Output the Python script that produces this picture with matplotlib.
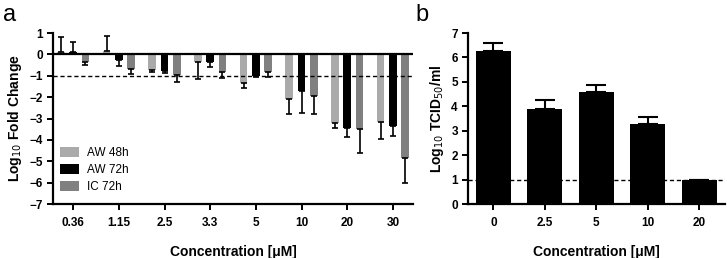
import numpy as np
import matplotlib.pyplot as plt

plt.rcParams['font.family'] = ['Liberation Sans', 'DejaVu Sans']

# panel a: log10 fold change
conc_a = ["0.36", "1.15", "2.5", "3.3", "5", "10", "20", "30"]
aw48 = [0.1, 0.15, -0.75, -0.35, -1.35, -2.08, -3.2, -3.15]
aw48_err = [0.7, 0.7, 0.05, 0.8, 0.2, 0.7, 0.25, 0.8]
aw72 = [0.1, -0.28, -0.78, -0.35, -1.0, -1.7, -3.42, -3.33]
aw72_err = [0.5, 0.25, 0.07, 0.22, 0.05, 1.02, 0.42, 0.5]
ic72 = [-0.37, -0.68, -0.95, -0.8, -0.8, -1.95, -3.48, -4.84]
ic72_err = [0.12, 0.22, 0.32, 0.3, 0.28, 0.84, 1.15, 1.18]
series_labels = ["AW 48h", "AW 72h", "IC 72h"]
series_colors = ["#aaaaaa", "#000000", "#808080"]

# panel b: virus titer
conc_b = ["0", "2.5", "5", "10", "20"]
titer = [6.27, 3.89, 4.6, 3.27, 1.0]
titer_err = [0.32, 0.37, 0.28, 0.28, 0.0]


def one_sided(vals, errs):
    vals = np.array(vals)
    errs = np.array(errs)
    lo = np.where(vals < 0, errs, 0)
    hi = np.where(vals >= 0, errs, 0)
    return [lo, hi]


def style_axis(ax):
    ax.spines['top'].set_visible(False)
    ax.spines['right'].set_visible(False)
    ax.spines['left'].set_linewidth(1.6)
    ax.spines['bottom'].set_linewidth(1.6)
    ax.tick_params(width=1.4, length=4, labelsize=8.5)
    ax.tick_params(axis='x', pad=5)
    for lab in ax.get_xticklabels() + ax.get_yticklabels():
        lab.set_fontweight('bold')


fig = plt.figure(figsize=(7.27, 2.58), dpi=100)

# ---- a ----
ax = fig.add_axes([0.073, 0.209, 0.495, 0.663])
x = np.arange(len(conc_a))
w = 0.17
off = 0.27
for i, (vals, errs) in enumerate([(aw48, aw48_err), (aw72, aw72_err), (ic72, ic72_err)]):
    ax.bar(x + (i - 1) * off, vals, w, color=series_colors[i], label=series_labels[i],
           yerr=one_sided(vals, errs), error_kw=dict(ecolor='black', elinewidth=1.2,
                                                     capsize=2.2, capthick=1.2))
ax.axhline(0, color='black', lw=1.6, zorder=3)
ax.axhline(-1, color='black', lw=1, ls=(0, (3, 2)), zorder=3)
ax.set_xlim(-0.44, 7.44)
ax.set_ylim(-7, 1)
ax.set_yticks(range(-7, 2))
ax.set_xticks(x)
ax.set_xticklabels(conc_a)
ax.set_ylabel("Log$_{10}$ Fold Change", fontsize=10, fontweight='bold', labelpad=4)
ax.set_xlabel("Concentration [μM]", fontsize=10, fontweight='bold', labelpad=12)
style_axis(ax)
ax.legend(loc='lower left', bbox_to_anchor=(-0.01, 0.0), frameon=False, fontsize=8.5,
          handlelength=1.6, handleheight=0.9, handletextpad=0.7, labelspacing=0.45)
fig.text(0.004, 0.985, "a", fontsize=17, va='top')

# ---- b ----
bx = fig.add_axes([0.644, 0.209, 0.353, 0.663])
xb = np.arange(len(conc_b))
bx.bar(xb, titer, 0.68, color='black',
       yerr=[np.zeros(len(titer)), titer_err],
       error_kw=dict(ecolor='black', elinewidth=1.5, capsize=7, capthick=1.5))
bx.axhline(1, color='black', lw=1, ls=(0, (3, 2)), zorder=3)
bx.set_xlim(-0.49, 4.5)
bx.set_ylim(0, 7)
bx.set_yticks(range(0, 8))
bx.set_xticks(xb)
bx.set_xticklabels(conc_b)
bx.set_ylabel("Log$_{10}$ TCID$_{50}$/ml", fontsize=10, fontweight='bold', labelpad=4)
bx.set_xlabel("Concentration [μM]", fontsize=10, fontweight='bold', labelpad=12)
style_axis(bx)
fig.text(0.572, 0.985, "b", fontsize=17, va='top')

plt.savefig("out.png", dpi=100)
